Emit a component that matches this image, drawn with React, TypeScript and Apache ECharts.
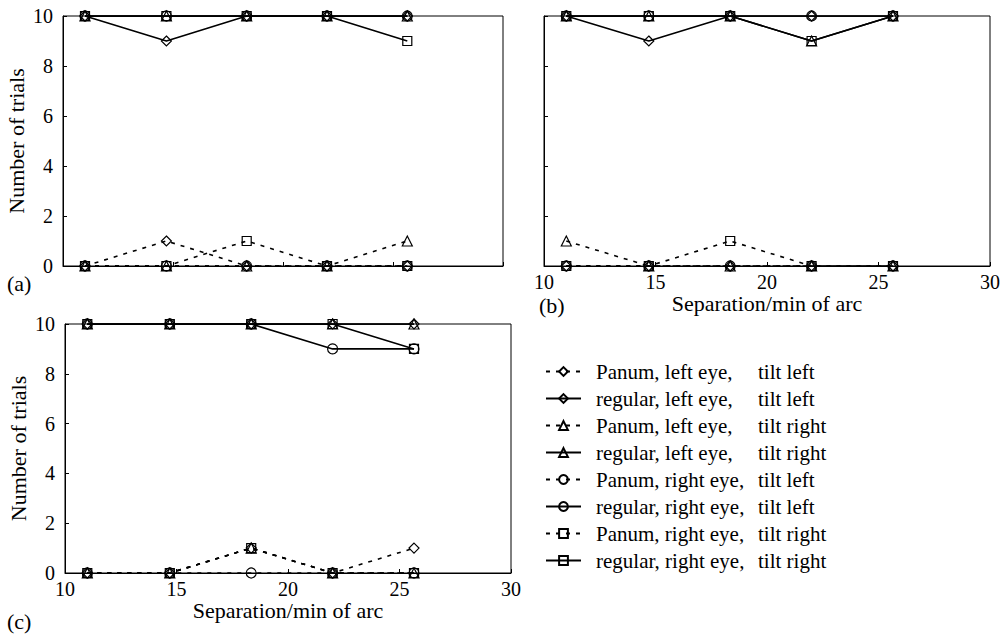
import React, { useEffect, useRef } from 'react';
import * as echarts from 'echarts';

const FONT = 'Liberation Serif';

// Separation (min of arc)
const separations = [11, 14.7, 18.35, 22, 25.65];

const seriesNames = [
  'Panum, left eye, tilt left',
  'regular, left eye, tilt left',
  'Panum, left eye, tilt right',
  'regular, left eye, tilt right',
  'Panum, right eye, tilt left',
  'regular, right eye, tilt left',
  'Panum, right eye, tilt right',
  'regular, right eye, tilt right',
];
const seriesSymbols = ['diamond', 'diamond', 'triangle', 'triangle', 'circle', 'circle', 'rect', 'rect'];

// Panel (a)
const aPanumLeftTiltLeft = [0, 1, 0, 0, 0];
const aRegularLeftTiltLeft = [10, 9, 10, 10, 10];
const aPanumLeftTiltRight = [0, 0, 0, 0, 1];
const aRegularLeftTiltRight = [10, 10, 10, 10, 10];
const aPanumRightTiltLeft = [0, 0, 0, 0, 0];
const aRegularRightTiltLeft = [10, 10, 10, 10, 10];
const aPanumRightTiltRight = [0, 0, 1, 0, 0];
const aRegularRightTiltRight = [10, 10, 10, 10, 9];

// Panel (b)
const bPanumLeftTiltLeft = [0, 0, 0, 0, 0];
const bRegularLeftTiltLeft = [10, 9, 10, 10, 10];
const bPanumLeftTiltRight = [1, 0, 0, 0, 0];
const bRegularLeftTiltRight = [10, 10, 10, 9, 10];
const bPanumRightTiltLeft = [0, 0, 0, 0, 0];
const bRegularRightTiltLeft = [10, 10, 10, 10, 10];
const bPanumRightTiltRight = [0, 0, 1, 0, 0];
const bRegularRightTiltRight = [10, 10, 10, 9, 10];

// Panel (c)
const cPanumLeftTiltLeft = [0, 0, 1, 0, 1];
const cRegularLeftTiltLeft = [10, 10, 10, 10, 10];
const cPanumLeftTiltRight = [0, 0, 1, 0, 0];
const cRegularLeftTiltRight = [10, 10, 10, 10, 10];
const cPanumRightTiltLeft = [0, 0, 0, 0, 0];
const cRegularRightTiltLeft = [10, 10, 10, 9, 9];
const cPanumRightTiltRight = [0, 0, 1, 0, 0];
const cRegularRightTiltRight = [10, 10, 10, 10, 9];

const panels = [
  [aPanumLeftTiltLeft, aRegularLeftTiltLeft, aPanumLeftTiltRight, aRegularLeftTiltRight,
    aPanumRightTiltLeft, aRegularRightTiltLeft, aPanumRightTiltRight, aRegularRightTiltRight],
  [bPanumLeftTiltLeft, bRegularLeftTiltLeft, bPanumLeftTiltRight, bRegularLeftTiltRight,
    bPanumRightTiltLeft, bRegularRightTiltLeft, bPanumRightTiltRight, bRegularRightTiltRight],
  [cPanumLeftTiltLeft, cRegularLeftTiltLeft, cPanumLeftTiltRight, cRegularLeftTiltRight,
    cPanumRightTiltLeft, cRegularRightTiltLeft, cPanumRightTiltRight, cRegularRightTiltRight],
];

const panelLabels = ['(a)', '(b)', '(c)'];
const xTitle = 'Separation/min of arc';
const yTitle = 'Number of trials';

function buildOption() {
  const grids = [
    { left: 63, top: 16, width: 440, height: 250 },
    { left: 544, top: 16, width: 446, height: 250 },
    { left: 65, top: 324, width: 446, height: 249 },
  ].map((g) => ({ ...g, show: true, borderColor: '#000', borderWidth: 1, backgroundColor: 'transparent' }));

  const showX = [false, true, true];
  const showY = [true, false, true];

  const xAxes = grids.map((_, i) => ({
    type: 'value',
    gridIndex: i,
    min: 10,
    max: 30,
    interval: 5,
    name: showX[i] ? xTitle : '',
    nameLocation: 'middle',
    nameGap: 24,
    nameTextStyle: { fontFamily: FONT, fontSize: 22, color: '#000' },
    axisLine: { show: true, onZero: false, lineStyle: { color: '#000', width: 1 } },
    axisTick: { show: true, inside: true, length: 4, lineStyle: { color: '#000' } },
    axisLabel: { show: showX[i], margin: 6, fontFamily: FONT, fontSize: 20, color: '#000' },
    splitLine: { show: false },
  }));

  const yAxes = grids.map((_, i) => ({
    type: 'value',
    gridIndex: i,
    min: 0,
    max: 10,
    interval: 2,
    name: showY[i] ? yTitle : '',
    nameLocation: 'middle',
    nameRotate: 90,
    nameGap: 36,
    nameTextStyle: { fontFamily: FONT, fontSize: 22, color: '#000' },
    axisLine: { show: true, onZero: false, lineStyle: { color: '#000', width: 1 } },
    axisTick: { show: true, inside: true, length: 4, lineStyle: { color: '#000' } },
    axisLabel: { show: showY[i], margin: 10, fontFamily: FONT, fontSize: 20, color: '#000' },
    splitLine: { show: false },
  }));

  const series: any[] = [];
  panels.forEach((panel, p) => {
    panel.forEach((vals, i) => {
      const panum = i % 2 === 0;
      series.push({
        type: 'line',
        name: seriesNames[i],
        xAxisIndex: p,
        yAxisIndex: p,
        data: separations.map((x, j) => [x, vals[j]]),
        symbol: seriesSymbols[i],
        symbolSize: seriesSymbols[i] === 'rect' ? 9 : 10,
        showAllSymbol: true,
        lineStyle: { color: '#000', width: 1.6, type: panum ? [4, 6] : 'solid' },
        itemStyle: { color: 'transparent', borderColor: '#000', borderWidth: 1.2 },
        emphasis: { disabled: true },
      });
    });
  });

  return {
    animation: false,
    backgroundColor: '#fff',
    grid: grids,
    xAxis: xAxes,
    yAxis: yAxes,
    series,
    legend: {
      data: seriesNames,
      orient: 'vertical',
      left: 545,
      top: 361,
      padding: 0,
      itemWidth: 35,
      itemHeight: 11,
      itemGap: 6,
      selectedMode: false,
      formatter: (name: string) => {
        const k = name.indexOf(' tilt');
        return `{s|}{a|${name.slice(0, k)}}{b|${name.slice(k + 1)}}`;
      },
      textStyle: {
        fontFamily: FONT,
        fontSize: 21,
        color: '#000',
        lineHeight: 18,
        rich: {
          s: { width: 10, lineHeight: 18 },
          a: { width: 162, fontFamily: FONT, fontSize: 21, lineHeight: 18, color: '#000' },
          b: { fontFamily: FONT, fontSize: 21, lineHeight: 18, color: '#000' },
        },
      },
    },
    graphic: [
      { type: 'text', left: 7, top: 272, style: { text: panelLabels[0], font: `22px ${FONT}`, fill: '#000' } },
      { type: 'text', left: 539, top: 294, style: { text: panelLabels[1], font: `22px ${FONT}`, fill: '#000' } },
      { type: 'text', left: 7, top: 610, style: { text: panelLabels[2], font: `22px ${FONT}`, fill: '#000' } },
    ],
  };
}

export default function App() {
  const ref = useRef<HTMLDivElement>(null);
  useEffect(() => {
    const chart = echarts.init(ref.current!, null, { renderer: 'svg' });
    chart.setOption(buildOption() as any);
    return () => chart.dispose();
  }, []);
  return (
    <div
      ref={ref}
      style={{ position: 'absolute', left: 0, top: 0, width: 1008, height: 635 }}
    />
  );
}
